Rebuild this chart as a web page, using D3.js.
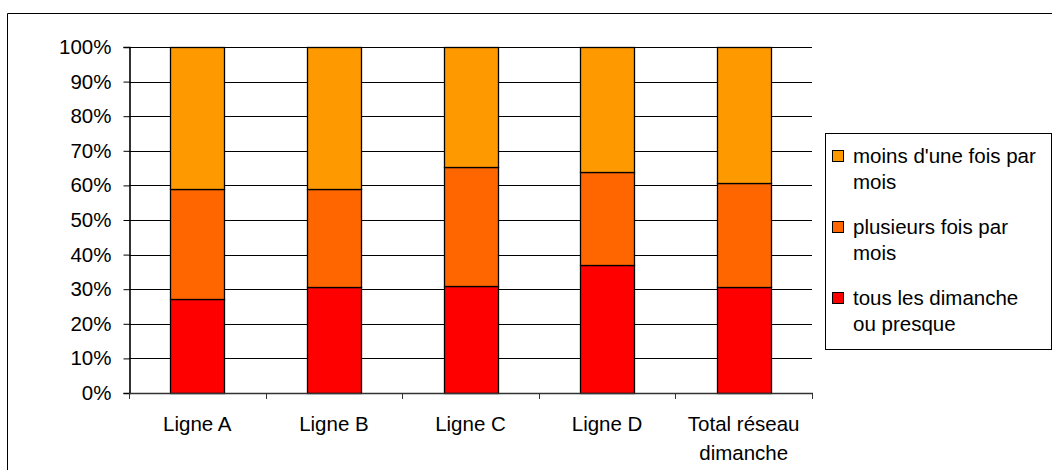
<!DOCTYPE html>
<html><head><meta charset="utf-8">
<script src="https://cdn.jsdelivr.net/npm/d3@7"></script>
<style>body{margin:0;background:#fff}svg{display:block}text{font-family:"Liberation Sans",Arial,sans-serif;fill:#000}</style>
</head><body><svg id="c" width="1053" height="470"></svg>
<script>
const categories = [["Ligne A"], ["Ligne B"], ["Ligne C"], ["Ligne D"], ["Total réseau", "dimanche"]];
const tousLesDimanche = [27.1, 30.5, 31.0, 36.9, 30.5];
const plusieursFois = [31.8, 28.4, 34.2, 27.1, 30.1];
const moinsDuneFois = [41.1, 41.1, 34.8, 36.0, 39.4];
const seriesNames = [["tous les dimanche", "ou presque"], ["plusieurs fois par", "mois"], ["moins d'une fois par", "mois"]];
const seriesColors = ["#FF0000", "#FF6600", "#FF9900"];
const yTicks = [0,10,20,30,40,50,60,70,80,90,100];

const svg = d3.select("#c");
const FS = 20.5;
// outer frame (top and left edges visible)
svg.append("path").attr("d","M7.5,470 V13.5 H1052").attr("fill","none").attr("stroke","#000").attr("stroke-width",1);

const L=129, R=812, T=47, B=393;
const keys = categories.map(c=>c.join(" "));
const x = d3.scaleBand().domain(keys).range([L,R]).paddingInner(0).paddingOuter(0);
const y = d3.scaleLinear().domain([0,100]).range([B,T]);

// gridlines
svg.append("g").selectAll("line").data(yTicks.filter(d=>d>0)).join("line")
  .attr("x1",L).attr("x2",R).attr("y1",d=>Math.round(y(d))+0.5).attr("y2",d=>Math.round(y(d))+0.5)
  .attr("stroke","#000").attr("stroke-width",1);

// stacked data
const rows = keys.map((k,i)=>({key:k, s0:tousLesDimanche[i], s1:plusieursFois[i], s2:moinsDuneFois[i]}));
const stack = d3.stack().keys(["s0","s1","s2"])(rows);
const bw = 54;
const gBars = svg.append("g");
stack.forEach((layer,li)=>{
  gBars.selectAll(null).data(layer).join("rect")
    .attr("x",d=>Math.round(x(d.data.key)+x.bandwidth()/2-bw/2)+0.5)
    .attr("y",d=>Math.round(y(Math.min(d[1],100)))+0.5)
    .attr("width",bw)
    .attr("height",d=>Math.round(y(d[0]))-Math.round(y(Math.min(d[1],100))))
    .attr("fill",seriesColors[li]).attr("stroke","#000").attr("stroke-width",1.3);
});

// y axis
const yAxis = d3.axisLeft(y).tickValues(yTicks).tickFormat(d=>d+"%").tickSize(6).tickPadding(12);
const gy = svg.append("g").attr("transform",`translate(${L+0.5},0)`).call(yAxis);
gy.select(".domain").attr("stroke","#000").attr("stroke-width",1.6);
gy.selectAll(".tick line").attr("stroke","#000");
gy.selectAll(".tick text").attr("font-size",FS).attr("font-family","Liberation Sans, Arial, sans-serif").attr("fill","#000");

// x axis
svg.append("line").attr("x1",L).attr("x2",R+1).attr("y1",B+0.5).attr("y2",B+0.5).attr("stroke","#333").attr("stroke-width",1.5);
const xb = keys.map(k=>x(k)).concat([R]);
svg.append("g").selectAll("line").data(xb).join("line")
  .attr("x1",d=>Math.round(d)+0.5).attr("x2",d=>Math.round(d)+0.5).attr("y1",B).attr("y2",B+6).attr("stroke","#333");
const gx = svg.append("g");
categories.forEach((c,i)=>{
  const t = gx.append("text").attr("x",x(keys[i])+x.bandwidth()/2).attr("y",431).attr("text-anchor","middle").attr("font-size",FS);
  c.forEach((ln,j)=>t.append("tspan").attr("x",x(keys[i])+x.bandwidth()/2).attr("dy",j===0?0:28.5).text(ln));
});

// legend
svg.append("rect").attr("x",825.5).attr("y",133.5).attr("width",226).attr("height",216).attr("fill","#fff").attr("stroke","#000");
const legOrder = [2,1,0];
legOrder.forEach((si,k)=>{
  const cy = 156 + k*71;
  svg.append("rect").attr("x",832.5).attr("y",cy-5.5).attr("width",11).attr("height",11).attr("fill",seriesColors[si]).attr("stroke","#000");
  const t = svg.append("text").attr("x",853).attr("y",cy+7).attr("font-size",FS);
  seriesNames[si].forEach((ln,j)=>t.append("tspan").attr("x",853).attr("dy",j===0?0:26).text(ln));
});
</script></body></html>
